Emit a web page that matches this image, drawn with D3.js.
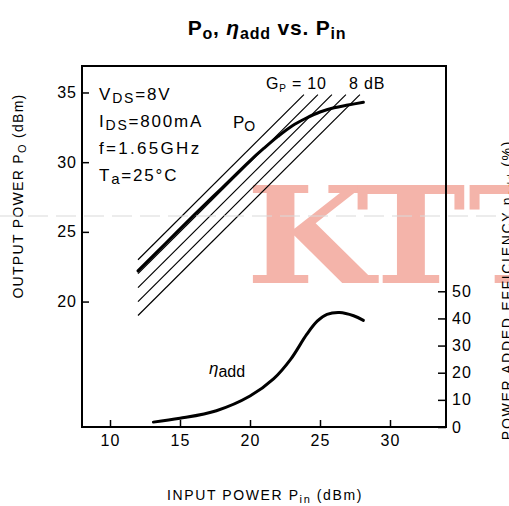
<!DOCTYPE html>
<html><head><meta charset="utf-8">
<script src="https://cdn.jsdelivr.net/npm/d3@7"></script>
<style>
body{margin:0;background:#fff;}
svg{display:block;font-family:"Liberation Sans",Arial,sans-serif;}
</style></head>
<body>
<svg id="c" width="509" height="506"></svg>
<script>
// ---- data ----
const pinTicks = [10, 15, 20, 25, 30];
const poTicks = [20, 25, 30, 35];
const etaTicks = [0, 10, 20, 30, 40, 50];
const gainLines = [11, 10, 9, 8, 7];      // Gp (dB) constant-gain lines
const gainPinStart = 12;                  // dBm
const gainPoEnd = 34.85;                  // dBm
const poPin = [12, 14, 16, 18, 20, 21, 22, 23, 24, 25, 26, 27, 28.1];
const poOut = [22.2, 24.2, 26.2, 28.15, 30.1, 31.0, 31.85, 32.6, 33.15, 33.6, 33.9, 34.1, 34.3];
const etaPin = [13.1, 15, 17.6, 20, 21.7, 22.9, 24.05, 24.8, 25.5, 26.4, 27.4, 28.1];
const etaVal = [1.8, 3.2, 6.0, 11.4, 17.8, 24.9, 34.1, 39, 41.5, 42.2, 41, 39.3];

const svg = d3.select("#c");
const x = d3.scaleLinear().domain([8, 34]).range([82, 446]);
const yL = d3.scaleLinear().domain([11, 36.9]).range([427, 66]);
const yR = d3.scaleLinear().domain([0, 133]).range([427, 66]);

// watermark
const wm = svg.append("text").attr("y", 283).attr("transform", "scale(1.1,1)")
  .attr("font-family", "'DejaVu Serif',serif").attr("font-weight", "bold")
  .attr("font-size", 134).attr("fill", "#f4b4aa");
[["K", 246 / 1.1], ["T", 356 / 1.1], ["T", 468 / 1.1]].forEach(([c, px]) => wm.append("tspan").attr("x", px).text(c));

// gain lines
const gLines = svg.append("g");
gainLines.forEach(G => {
  gLines.append("line")
    .attr("x1", x(gainPinStart)).attr("y1", yL(gainPinStart + G))
    .attr("x2", x(gainPoEnd - G)).attr("y2", yL(gainPoEnd))
    .attr("stroke", "#000").attr("stroke-width", 1.2);
});

// Po curve
svg.append("path")
  .datum(poPin.map((p, i) => [p, poOut[i]]))
  .attr("fill", "none").attr("stroke", "#000").attr("stroke-width", 3)
  .attr("stroke-linecap", "round")
  .attr("d", d3.line().x(d => x(d[0])).y(d => yL(d[1])).curve(d3.curveCatmullRom.alpha(0.5)));

// eta curve
svg.append("path")
  .datum(etaPin.map((p, i) => [p, etaVal[i]]))
  .attr("fill", "none").attr("stroke", "#000").attr("stroke-width", 3)
  .attr("stroke-linecap", "round")
  .attr("d", d3.line().x(d => x(d[0])).y(d => yR(d[1])).curve(d3.curveCatmullRom.alpha(0.5)));

// frame
svg.append("rect").attr("x", x(8)).attr("y", yL(36.9))
  .attr("width", x(34) - x(8)).attr("height", yL(11) - yL(36.9))
  .attr("fill", "none").attr("stroke", "#000").attr("stroke-width", 2);

function styleAxis(g) {
  g.select(".domain").remove();
  g.selectAll("line").attr("stroke", "#000").attr("stroke-width", 1.5);
  g.selectAll("text").attr("font-size", 16).attr("fill", "#000")
    .attr("font-family", "'Liberation Sans',Arial,sans-serif").attr("letter-spacing", 1);
}
svg.append("g").attr("transform", `translate(${x(8)},0)`)
  .call(d3.axisLeft(yL).tickValues(poTicks).tickSize(-7).tickPadding(5))
  .call(styleAxis);
svg.append("g").attr("transform", `translate(0,${yL(11)})`)
  .call(d3.axisBottom(x).tickValues(pinTicks).tickSize(-7).tickPadding(8))
  .call(styleAxis);
svg.append("g").attr("transform", `translate(${x(34)},0)`)
  .call(d3.axisRight(yR).tickValues(etaTicks).tickSize(-8).tickPadding(6))
  .call(styleAxis);

// helper for text with subscripts
function rich(sel, parts, subSize, subDy) {
  parts.forEach(p => {
    const t = sel.append("tspan").text(p[0]);
    if (p[1] === 1) t.attr("font-size", subSize).attr("dy", subDy);
    else if (p[1] === -1) t.attr("dy", -subDy);
    if (p[2]) t.attr("font-style", p[2]);
  });
}

// title
const title = svg.append("text").attr("x", 267).attr("y", 35).attr("text-anchor", "middle")
  .attr("font-weight", "bold").attr("font-size", 21).attr("letter-spacing", 0.8);
rich(title, [["P", 0], ["o", 1], [", ", -1], ["η", 0, "italic"], ["add", 1], [" vs. ", -1], ["P", 0], ["in", 1]], 16, 4);

// condition text
const condY = [100, 127, 154, 181];
const c1 = svg.append("text").attr("x", 99).attr("y", condY[0]).attr("font-size", 17).attr("letter-spacing", 1.8);
rich(c1, [["V", 0], ["DS", 1], ["=8V", -1]], 14, 3);
const c2 = svg.append("text").attr("x", 99).attr("y", condY[1]).attr("font-size", 17).attr("letter-spacing", 1.8);
rich(c2, [["I", 0], ["DS", 1], ["=800mA", -1]], 14, 3);
svg.append("text").attr("x", 99).attr("y", condY[2]).attr("font-size", 17).attr("letter-spacing", 2.3).text("f=1.65GHz");
const c4 = svg.append("text").attr("x", 99).attr("y", condY[3]).attr("font-size", 17).attr("letter-spacing", 1.8);
rich(c4, [["T", 0], ["a", 1], ["=25°C", -1]], 15, 3);

// curve labels
const po = svg.append("text").attr("x", 233).attr("y", 128).attr("font-size", 17);
rich(po, [["P", 0], ["O", 1]], 14, 3);
const gp = svg.append("text").attr("x", 266).attr("y", 89).attr("font-size", 16).attr("letter-spacing", 0.8);
rich(gp, [["G", 0], ["P", 1], [" = 10", -1]], 10, 3);
svg.append("text").attr("x", 349).attr("y", 89).attr("font-size", 16).attr("letter-spacing", 0.8).text("8 dB");
const eta = svg.append("text").attr("x", 209).attr("y", 374).attr("font-size", 17);
rich(eta, [["η", 0, "italic"], ["add", 1]], 16, 3);

// axis titles
const yt = svg.append("text").attr("transform", "translate(23,196) rotate(-90)")
  .attr("text-anchor", "middle").attr("font-size", 14).attr("letter-spacing", 1.3);
rich(yt, [["OUTPUT POWER P", 0], ["O", 1], [" (dBm)", -1]], 11, 3);
const xt = svg.append("text").attr("x", 265).attr("y", 500)
  .attr("text-anchor", "middle").attr("font-size", 14).attr("letter-spacing", 1.6);
rich(xt, [["INPUT POWER P", 0], ["in", 1], [" (dBm)", -1]], 11, 3);
const rt = svg.append("text").attr("transform", "translate(512,290) rotate(-90)")
  .attr("text-anchor", "middle").attr("font-size", 14).attr("letter-spacing", 1.7);
rich(rt, [["POWER ADDED EFFICIENCY η", 0], ["add", 1], [" (%)", -1]], 11, 3);

// faint dashed scan line
svg.append("line").attr("x1", 0).attr("x2", 509).attr("y1", 216).attr("y2", 216)
  .attr("stroke", "#d9d9d9").attr("stroke-width", 1).attr("stroke-dasharray", "20 8");
</script>
</body></html>
